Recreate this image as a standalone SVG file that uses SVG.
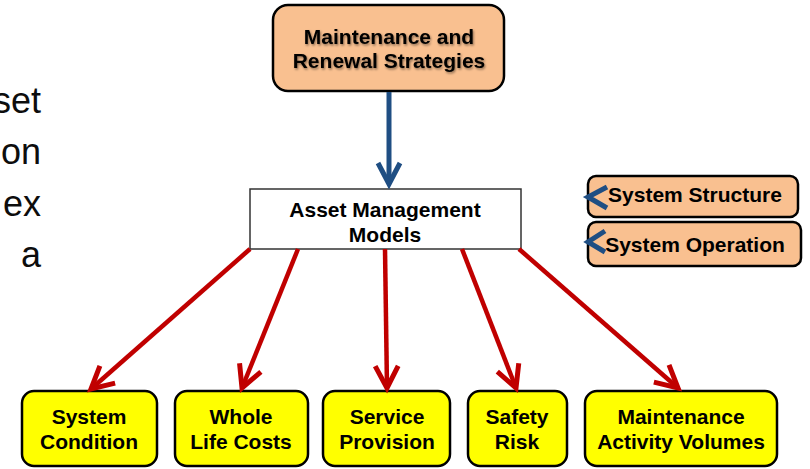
<svg xmlns="http://www.w3.org/2000/svg" width="810" height="469" viewBox="0 0 810 469">
<defs>
<style>
.t{font-family:"Liberation Sans",Arial,sans-serif;font-weight:bold;font-size:21px;fill:#000;text-anchor:middle}
.side{font-family:"Liberation Sans",Arial,sans-serif;font-size:36px;fill:#0d0d0d;text-anchor:end}
.peach{fill:#F9C090;stroke:#000;stroke-width:2.5}
.yel{fill:#FFFF00;stroke:#000;stroke-width:2.5}
.red{stroke:#C00000;stroke-width:4.5;fill:none}
.blue{stroke:#1F4E83;stroke-width:5;fill:none}
</style>
<filter id="sh" x="-10%" y="-30%" width="120%" height="160%">
<feDropShadow dx="1" dy="1.5" stdDeviation="1.2" flood-color="#000" flood-opacity="0.45"/>
</filter>
<marker id="ar" markerUnits="userSpaceOnUse" markerWidth="40" markerHeight="40" viewBox="-30 -20 40 40" refX="0" refY="0" orient="auto">
<path d="M-22,-11.5 L0,0 L-22,11.5" fill="none" stroke="#C00000" stroke-width="5"/>
</marker>
<marker id="ab" markerUnits="userSpaceOnUse" markerWidth="40" markerHeight="40" viewBox="-30 -20 40 40" refX="0" refY="0" orient="auto">
<path d="M-21,-11 L0,0 L-21,11" fill="none" stroke="#1F4E83" stroke-width="5"/>
</marker>
</defs>
<rect width="810" height="469" fill="#fff"/>
<g id="side-text">
<text class="side" x="41" y="113">set</text>
<text class="side" x="41" y="164">on</text>
<text class="side" x="41" y="216">ex</text>
<text class="side" x="41" y="267">a</text>
</g>
<g id="n-strategies">
<rect class="peach" x="273" y="5" width="231" height="86" rx="15"/>
<g filter="url(#sh)">
<text class="t" x="389" y="44">Maintenance and</text>
<text class="t" x="389" y="68">Renewal Strategies</text>
</g>
</g>
<g id="n-models">
<rect x="250" y="189" width="271" height="60" fill="#fff" stroke="#333" stroke-width="1.5"/>
<text class="t" x="385" y="217">Asset Management</text>
<text class="t" x="385" y="242">Models</text>
</g>
<g id="n-structure">
<rect class="peach" x="588" y="176" width="210" height="41" rx="8"/>
<text class="t" x="695" y="202">System Structure</text>
</g>
<g id="n-operation">
<rect class="peach" x="588" y="222" width="213" height="44" rx="8"/>
<text class="t" x="695" y="252">System Operation</text>
</g>
<g id="n-condition">
<rect class="yel" x="22" y="391" width="135" height="75" rx="12"/>
<text class="t" x="89" y="424">System</text>
<text class="t" x="89" y="449">Condition</text>
</g>
<g id="n-costs">
<rect class="yel" x="175" y="391" width="133" height="75" rx="12"/>
<text class="t" x="241" y="424">Whole</text>
<text class="t" x="241" y="449">Life Costs</text>
</g>
<g id="n-service">
<rect class="yel" x="323" y="391" width="127" height="75" rx="12"/>
<text class="t" x="387" y="424">Service</text>
<text class="t" x="387" y="449">Provision</text>
</g>
<g id="n-safety">
<rect class="yel" x="468" y="391" width="99" height="75" rx="12"/>
<text class="t" x="517" y="424">Safety</text>
<text class="t" x="517" y="449">Risk</text>
</g>
<g id="n-volumes">
<rect class="yel" x="585" y="391" width="192" height="75" rx="12"/>
<text class="t" x="681" y="424">Maintenance</text>
<text class="t" x="681" y="449">Activity Volumes</text>
</g>
<g id="connectors">
<line class="blue" x1="389" y1="92" x2="389" y2="184" marker-end="url(#ab)"/>
<line class="red" x1="250" y1="249" x2="91" y2="389" marker-end="url(#ar)"/>
<line class="red" x1="298" y1="249" x2="242" y2="388" marker-end="url(#ar)"/>
<line class="red" x1="385" y1="249" x2="387" y2="388" marker-end="url(#ar)"/>
<line class="red" x1="462" y1="249" x2="516" y2="388" marker-end="url(#ar)"/>
<line class="red" x1="519" y1="249" x2="678" y2="388" marker-end="url(#ar)"/>
<polyline class="blue" points="607,187 588,197 607,208"/>
<polyline class="blue" points="605,231 588,242 605,252"/>
</g>
</svg>
